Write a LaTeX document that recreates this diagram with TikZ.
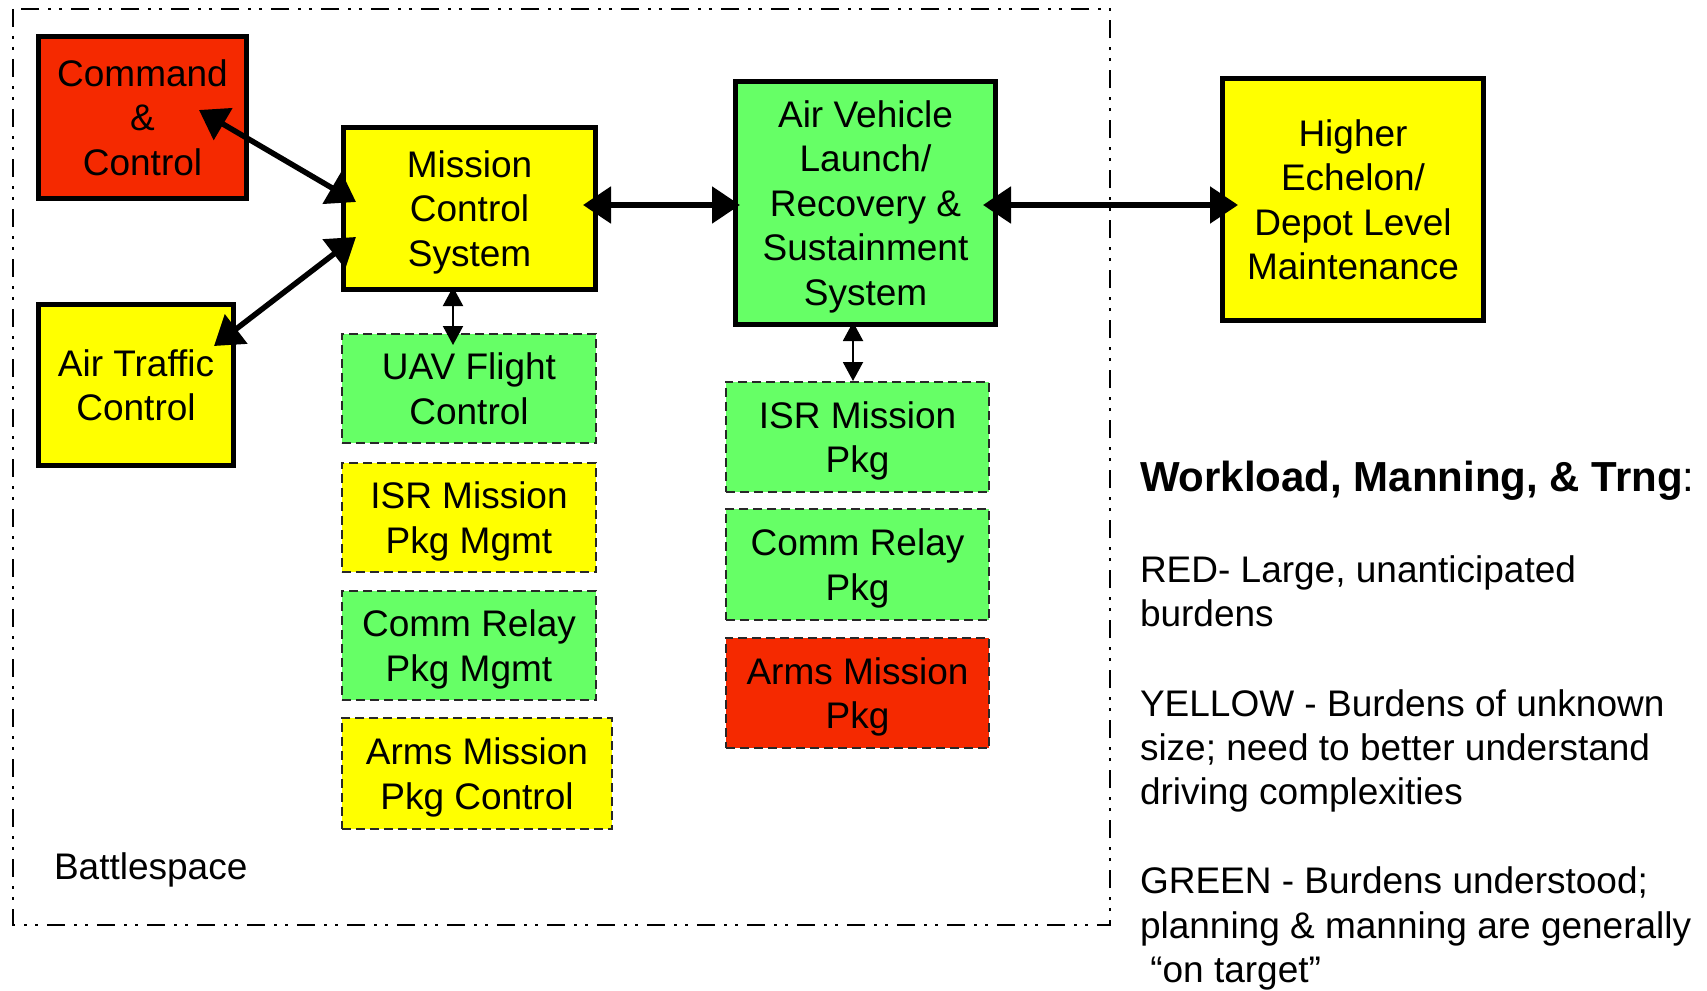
\documentclass[tikz,border=0pt]{standalone}
\usepackage{fontspec}
\setmainfont{Liberation Sans}
\usetikzlibrary{arrows.meta,calc}
\definecolor{cred}{RGB}{245,41,0}
\definecolor{cyel}{RGB}{255,255,0}
\definecolor{cgrn}{RGB}{102,255,102}
\definecolor{dashgray}{RGB}{40,40,40}
\begin{document}
\begin{tikzpicture}[x=1pt,y=-1pt,
  every node/.style={font=\fontsize{37}{44.5}\selectfont, inner sep=0pt, outer sep=0pt, align=center},
  solidbox/.style={draw=black, line width=5.5pt, rectangle, text depth=0pt},
  dashbox/.style={draw=dashgray, line width=1.6pt, dash pattern=on 9pt off 5pt, rectangle, text depth=0pt},
  bigarrow/.style={line width=5.5pt, {Triangle[length=28pt,width=36pt]}-{Triangle[length=28pt,width=36pt]}},
  smallarrow/.style={line width=2pt, {Triangle[length=19pt,width=20pt]}-{Triangle[length=19pt,width=20pt]}},
  legend/.style={anchor=base west, align=left},
  battleborder/.style={line width=2.5pt, dash pattern=on 18pt off 9pt on 3pt off 8pt on 3pt off 9pt}
]
\useasboundingbox (0,0) rectangle (1707,990);

% battlespace border
\draw[battleborder] (13,9) rectangle (1110,925);
\node[legend] (bs) at (54,879) {Battlespace};

% solid boxes
\node[solidbox, fill=cred, minimum width=208, minimum height=162] (cc) at (142.5,117.5) {Command\\\&\\Control};
\node[solidbox, fill=cyel, minimum width=195, minimum height=161] (atc) at (136,385) {Air Traffic\\Control};
\node[solidbox, fill=cyel, minimum width=252, minimum height=162] (mcs) at (469.5,208.5) {Mission\\Control\\System};
\node[solidbox, fill=cgrn, minimum width=260, minimum height=243] (av) at (865.5,203) {Air Vehicle\\Launch/\\Recovery \&\\Sustainment\\System};
\node[solidbox, fill=cyel, minimum width=261, minimum height=242] (he) at (1353,199.5) {Higher\\Echelon/\\Depot Level\\Maintenance};

% dashed boxes
\node[dashbox, fill=cgrn, minimum width=254.5, minimum height=109.5] (uav) at (469,388.5) {UAV Flight\\Control};
\node[dashbox, fill=cyel, minimum width=254.5, minimum height=109.5] (isra) at (469,517.5) {ISR Mission\\Pkg Mgmt};
\node[dashbox, fill=cgrn, minimum width=254.5, minimum height=109.5] (comma) at (469,645.5) {Comm Relay\\Pkg Mgmt};
\node[dashbox, fill=cyel, minimum width=270.5, minimum height=111.5] (armsa) at (477,773.5) {Arms Mission\\Pkg Control};
\node[dashbox, fill=cgrn, minimum width=263.5, minimum height=110.5] (isrb) at (857.5,437) {ISR Mission\\Pkg};
\node[dashbox, fill=cgrn, minimum width=263.5, minimum height=111.5] (commb) at (857.5,564.5) {Comm Relay\\Pkg};
\node[dashbox, fill=cred, minimum width=263.5, minimum height=110.5] (armsb) at (857.5,693) {Arms Mission\\Pkg};

% connectors
\draw[bigarrow] ($(cc)+(56.5,-7.5)$) -- ($(mcs)+(-113.5,-6.5)$);
\draw[bigarrow] ($(atc)+(78,-39)$) -- ($(mcs)+(-113.5,28.5)$);
\draw[bigarrow] ($(mcs)+(113.5,-3.5)$) -- ($(av)+(-125.5,2)$);
\draw[bigarrow] ($(av)+(117.5,2)$) -- ($(he)+(-115,5.5)$);
\draw[smallarrow] ($(mcs)+(-16.5,78.5)$) -- ($(uav)+(-16,-43.5)$);
\draw[smallarrow] ($(av)+(-12.5,119)$) -- ($(isrb)+(-4.5,-56)$);

% legend
\node[legend, font=\fontsize{42}{50}\selectfont\bfseries] (lt) at (1140,491) {Workload, Manning, \& Trng\textmd{:}};
\node[legend] (l1) at (1140,582) {RED- Large, unanticipated};
\node[legend] (l2) at (1140,626) {burdens};
\node[legend] (l3) at (1140,716) {YELLOW - Burdens of unknown};
\node[legend] (l4) at (1140,760) {size; need to better understand};
\node[legend] (l5) at (1140,804) {driving complexities};
\node[legend] (l6) at (1140,893) {GREEN - Burdens understood;};
\node[legend] (l7) at (1140,938) {planning \& manning are generally};
\node[legend] (l8) at (1140,982) {\ “on target”};
\end{tikzpicture}
\end{document}
